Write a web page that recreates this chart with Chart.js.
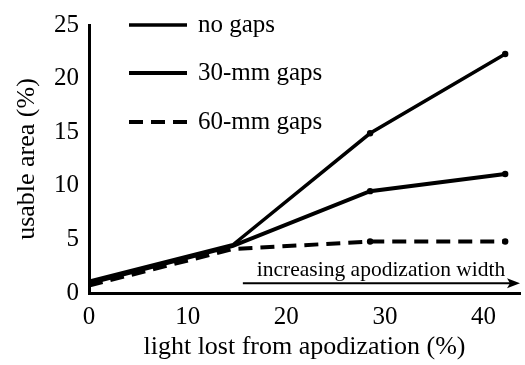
<!DOCTYPE html>
<html><head><meta charset="utf-8">
<script src="https://cdn.jsdelivr.net/npm/chart.js@4/dist/chart.umd.min.js"></script>
<style>html,body{margin:0;padding:0;background:#fff}#wrap{width:525px;height:365px}</style>
</head><body><div id="wrap"><canvas id="c" width="525" height="365"></canvas></div>
<script>
const xValues = [0, 14.6, 28.5, 42.2];
const noGaps = [1.1, 4.5, 14.9, 22.3];
const gaps30 = [0.9, 4.4, 9.5, 11.1];
const gaps60 = [0.7, 4.1, 4.8, 4.8];
const seriesLabels = ['no gaps', '30-mm gaps', '60-mm gaps'];
const xTicks = [0, 10, 20, 30, 40];
const yTicks = [0, 5, 10, 15, 20, 25];
const arrowLabel = 'increasing apodization width';
const arrowFrom = 15.6, arrowTo = 43.7, arrowY = 0.9;

const FONT = '"Liberation Serif", "Times New Roman", serif';
const pts = arr => arr.map((v, i) => ({x: xValues[i], y: v}));
const rad = ctx => ctx.dataIndex >= 2 ? 3.2 : 0;

const legendPlugin = {
  id: 'customLegend',
  afterDatasetsDraw(chart) {
    const ctx = chart.ctx;
    const ys = [25, 73, 122];
    chart.data.datasets.forEach((ds, i) => {
      ctx.save();
      ctx.strokeStyle = '#000';
      ctx.lineWidth = ds.borderWidth;
      ctx.setLineDash(ds.borderDash || []);
      ctx.beginPath();
      ctx.moveTo(129, ys[i]); ctx.lineTo(187, ys[i]);
      ctx.stroke();
      ctx.setLineDash([]);
      ctx.fillStyle = '#000';
      ctx.font = '25px ' + FONT;
      ctx.textBaseline = 'middle';
      ctx.fillText(ds.label, 198, ys[i]);
      ctx.restore();
    });
    const xs = chart.scales.x, ysc = chart.scales.y;
    const x1 = xs.getPixelForValue(arrowFrom), x2 = xs.getPixelForValue(arrowTo);
    const y = ysc.getPixelForValue(arrowY);
    ctx.save();
    ctx.strokeStyle = '#000'; ctx.fillStyle = '#000';
    ctx.lineWidth = 2;
    ctx.beginPath(); ctx.moveTo(x1, y); ctx.lineTo(x2 - 4, y); ctx.stroke();
    ctx.beginPath(); ctx.moveTo(x2, y); ctx.lineTo(x2 - 13, y - 5); ctx.lineTo(x2 - 10, y); ctx.lineTo(x2 - 13, y + 5); ctx.closePath(); ctx.fill();
    ctx.font = '21.5px ' + FONT;
    ctx.textBaseline = 'alphabetic';
    ctx.textAlign = 'left';
    ctx.fillText(arrowLabel, x1 + 14, y - 7);
    ctx.restore();
  }
};

new Chart(document.getElementById('c'), {
  type: 'line',
  data: {
    datasets: [
      {label: seriesLabels[0], data: pts(noGaps), borderColor: '#000', backgroundColor: '#000', borderWidth: 3.5, pointRadius: rad, pointBackgroundColor: '#000', pointBorderWidth: 0},
      {label: seriesLabels[1], data: pts(gaps30), borderColor: '#000', backgroundColor: '#000', borderWidth: 4, pointRadius: rad, pointBackgroundColor: '#000', pointBorderWidth: 0},
      {label: seriesLabels[2], data: pts(gaps60), borderColor: '#000', backgroundColor: '#000', borderWidth: 4, borderDash: [14, 8], pointRadius: rad, pointBackgroundColor: '#000', pointBorderWidth: 0}
    ]
  },
  options: {
    responsive: false,
    animation: false,
    events: [],
    layout: {padding: {top: 18, right: 5, left: 0, bottom: 0}},
    plugins: {legend: {display: false}, tooltip: {enabled: false}},
    scales: {
      x: {
        type: 'linear', min: 0, max: 43.7,
        afterBuildTicks: s => { s.ticks = xTicks.map(v => ({value: v})); },
        afterFit: s => { s.height = 72; },
        grid: {display: false, drawTicks: false},
        border: {display: true, color: '#000', width: 3},
        ticks: {color: '#000', font: {family: FONT, size: 25}, padding: 9, maxRotation: 0},
        title: {display: true, text: 'light lost from apodization (%)', color: '#000', font: {family: FONT, size: 26}, padding: {top: 0, bottom: 2}}
      },
      y: {
        type: 'linear', min: 0, max: 25,
        afterBuildTicks: s => { s.ticks = yTicks.map(v => ({value: v})); },
        afterFit: s => { s.width = 89; },
        grid: {display: false, drawTicks: false},
        border: {display: true, color: '#000', width: 3},
        ticks: {color: '#000', font: {family: FONT, size: 25}, padding: 10},
        title: {display: true, text: 'usable area (%)', color: '#000', font: {family: FONT, size: 26}, padding: {top: 12, bottom: 0}}
      }
    }
  },
  plugins: [legendPlugin]
});
</script></body></html>
